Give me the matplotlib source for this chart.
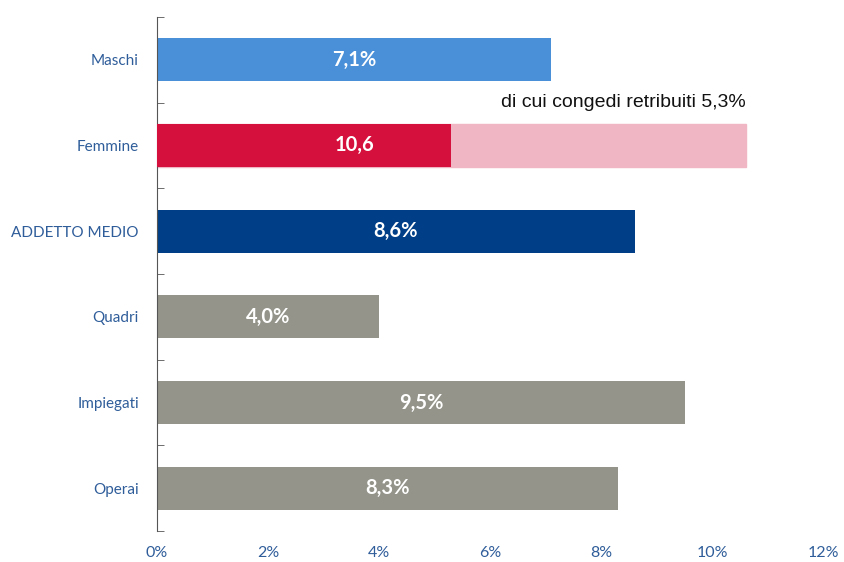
import matplotlib
matplotlib.use("Agg")
import matplotlib.pyplot as plt

# Data
categories = ["Maschi", "Femmine", "ADDETTO MEDIO", "Quadri", "Impiegati", "Operai"]
values     = [7.1, 10.6, 8.6, 4.0, 9.5, 8.3]
bar_labels = ["7,1%", "10,6", "8,6%", "4,0%", "9,5%", "8,3%"]
label_pos  = [3.55, 3.55, 4.3, 2.0, 4.75, 4.15]
colors     = ["#4A90D9", "#D6103C", "#003F87", "#94948A", "#94948A", "#94948A"]
congedi_femmine = 5.3
xticks = [0, 2, 4, 6, 8, 10, 12]

TEXT_BLUE = "#2F5D9A"

fig = plt.figure(figsize=(8.44, 5.62), dpi=100)
ax = fig.add_axes([0.186, 0.055, 0.790, 0.915])

y = list(range(len(categories)))

# Femmine: paid leave part in strong red, the rest in light pink
bars = ax.barh(y, values, height=0.5, color=colors, zorder=2)
bars[1].set_color("#F0B6C4")
ax.barh(1, congedi_femmine, height=0.5, color="#D6103C", zorder=3)

for yi, xp, lab in zip(y, label_pos, bar_labels):
    ax.text(xp, yi, lab, ha="center", va="center", color="white",
            fontsize=14.5, fontweight="bold", family="Lato", zorder=4)

ax.text(values[1], 0.5, "di cui congedi retribuiti 5,3%", ha="right", va="center",
        fontsize=14, family="Liberation Sans", color="#111111")

ax.set_xlim(0, 12)
ax.set_ylim(len(categories) - 0.5, -0.5)
ax.set_xticks(xticks)
ax.set_xticklabels([f"{t}%" for t in xticks], family="Lato", fontsize=11.5, color=TEXT_BLUE)
ax.set_yticks(y)
ax.set_yticklabels(categories, family="Lato", fontsize=11, color=TEXT_BLUE)

# boundary ticks on the left spine
ax.set_yticks([i - 0.5 for i in range(len(categories) + 1)], minor=True)
ax.tick_params(axis="y", which="major", length=0, pad=13)
ax.tick_params(axis="y", which="minor", length=5, direction="in", color="#555555")
ax.tick_params(axis="x", length=0, pad=11)

for s in ["top", "right", "bottom"]:
    ax.spines[s].set_visible(False)
ax.spines["left"].set_color("#555555")

fig.savefig("out.png", dpi=100)
